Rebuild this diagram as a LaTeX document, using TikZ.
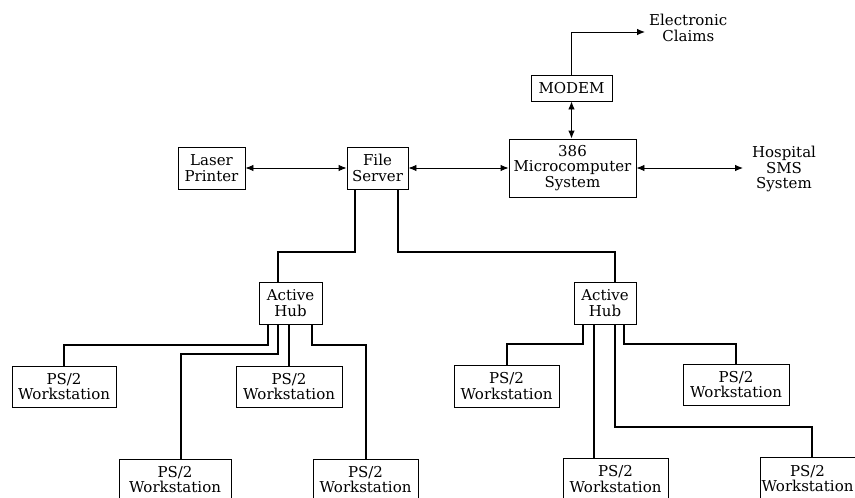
\documentclass[tikz,border=0pt]{standalone}
\usepackage{fontspec}
\setmainfont{DejaVu Serif}
\usetikzlibrary{arrows.meta,calc}
\tikzset{
  box/.style={draw, line width=0.9pt, inner sep=0pt, align=center, font=\fontsize{15}{15.5}\selectfont},
  lbl/.style={inner sep=0pt, align=center, font=\fontsize{15}{15.5}\selectfont},
  link/.style={line width=0.9pt, {Latex[length=8pt,width=6.5pt]}-{Latex[length=8pt,width=6.5pt]}},
  oneway/.style={line width=0.9pt, -{Latex[length=8pt,width=6.5pt]}},
  cable/.style={line width=2.4pt, line join=miter}
}
\begin{document}
\begin{tikzpicture}[x=1pt,y=-1pt]
\useasboundingbox (0,0) rectangle (855,498);
\clip (0,0) rectangle (855,498);
\fill[white] (0,0) rectangle (855,498);

% top row
\node[box, minimum width=67pt, minimum height=42pt] (lp) at (211.5,168) {Laser\\Printer};
\node[box, minimum width=61pt, minimum height=42pt] (fs) at (377.5,168) {File\\Server};
\node[box, minimum width=127pt, minimum height=58pt] (mc) at (572.5,168) {386\\Microcomputer\\System};
\node[box, minimum width=81pt, minimum height=26pt] (modem) at (571.5,88) {MODEM};
\node[lbl, anchor=west] (claims) at (649,28) {Electronic\\Claims};
\node[lbl] (hosp) at (784,169) {Hospital\\SMS\\System};
\coordinate (hospin) at (743,168);
\coordinate (claimsin) at (645,32);

\draw[link] (lp.east) -- (fs.west);
\draw[link] (fs.east) -- (mc.west);
\draw[link] (mc.east |- hospin) -- (hospin);
\draw[link] (modem.south) -- (mc.north -| modem.south);
\draw[oneway] (modem.north) |- (claimsin);

% hubs
\node[box, minimum width=63pt, minimum height=42pt] (hubL) at (290.5,303) {Active\\Hub};
\node[box, minimum width=62pt, minimum height=42pt] (hubR) at (605,303) {Active\\Hub};

\coordinate (fsl) at (355,189);
\coordinate (fsr) at (398,189);
\draw[cable] (fsl) -- (355,252) -| (hubL.north -| 278,0);
\draw[cable] (fsr) -- (398,252) -| (hubR.north -| 615,0);

% workstations
\node[box, minimum width=104pt, minimum height=41pt] (w1) at (64,386.5) {PS/2\\Workstation};
\node[box, minimum width=112pt, minimum height=41pt] (w2) at (175,479.5) {PS/2\\Workstation};
\node[box, minimum width=106pt, minimum height=41pt] (w3) at (289,386.5) {PS/2\\Workstation};
\node[box, minimum width=105pt, minimum height=41pt] (w4) at (365.5,479.5) {PS/2\\Workstation};
\node[box, minimum width=105pt, minimum height=42pt] (w5) at (506.5,386) {PS/2\\Workstation};
\node[box, minimum width=105pt, minimum height=42pt] (w6) at (615.5,479) {PS/2\\Workstation};
\node[box, minimum width=105pt, minimum height=43pt] (w7) at (812.5,478.5) {PS/2\hspace*{10pt}\\Workstation\hspace*{10pt}};
\node[box, minimum width=106pt, minimum height=41pt] (w8) at (736,384.5) {PS/2\\Workstation};

% left hub branches
\draw[cable] (hubL.south -| 268,0) -- (268,345) -| (w1.north);
\draw[cable] (hubL.south -| 278,0) -- (278,354) -| (w2.north -| 181,0);
\draw[cable] (hubL.south -| w3.north) -- (w3.north);
\draw[cable] (hubL.south -| 312,0) -- (312,345) -| (w4.north -| 366,0);

% right hub branches
\draw[cable] (hubR.south -| 583,0) -- (583,344) -| (w5.north -| 507,0);
\draw[cable] (hubR.south -| 594,0) -- (w6.north -| 594,0);
\draw[cable] (hubR.south -| 615,0) -- (615,427) -| (w7.north -| 812,0);
\draw[cable] (hubR.south -| 624,0) -- (624,344) -| (w8.north);
\end{tikzpicture}
\end{document}
